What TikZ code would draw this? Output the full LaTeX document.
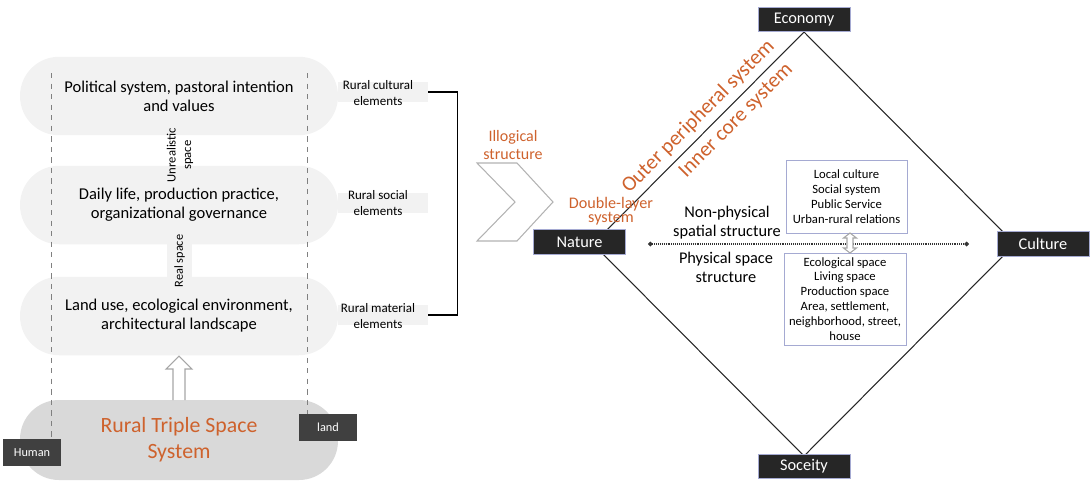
\documentclass[tikz,border=0pt]{standalone}
\usepackage{fontspec}
\setmainfont{Carlito}
\usetikzlibrary{arrows.meta}
\definecolor{rustorange}{RGB}{206,98,45}
\definecolor{bandgray}{RGB}{242,242,242}
\definecolor{pillgray}{RGB}{217,217,217}
\definecolor{darkbox}{RGB}{38,38,38}
\definecolor{midbox}{RGB}{64,64,64}
\definecolor{boxedge}{RGB}{165,170,210}
\tikzset{
  band/.style={fill=bandgray,rounded corners=0.78cm,minimum width=6.36cm,minimum height=1.57cm,align=center,font=\fontsize{9.4}{10.9}\selectfont},
  tab/.style={fill=bandgray,minimum width=1.8cm,minimum height=0.4cm,inner sep=0pt},
  tablabel/.style={align=center,font=\fontsize{7.4}{9}\selectfont},
  cornerbox/.style={fill=darkbox,draw=boxedge,line width=0.3pt,text=white,minimum width=1.84cm,minimum height=0.49cm,inner sep=0pt,font=\fontsize{9.3}{11}\selectfont},
  tagbox/.style={fill=midbox,text=white,minimum width=1.16cm,minimum height=0.54cm,inner sep=0pt,font=\fontsize{7}{8}\selectfont},
  accent/.style={text=rustorange,align=center},
  listbox/.style={draw=boxedge,line width=0.5pt,align=center,inner sep=0pt,font=\fontsize{7.2}{8.5}\selectfont},
  hollow/.style={draw=gray!70,fill=white,line width=0.6pt},
  guide/.style={dashed,gray,line width=0.5pt},
  edge/.style={line width=0.6pt,draw=black!85}
}
\begin{document}
\begin{tikzpicture}[x=0.02cm,y=-0.02cm]
\useasboundingbox (0,0) rectangle (1091,481);
% left part: three spaces
\path (383,92) node (cultab) [tab] {};
\path (383,203) node (soctab) [tab] {};
\path (383,315) node (mattab) [tab] {};
\path (378,93) node (cultural) [tablabel] {Rural cultural\\elements};
\path (378,203) node (social) [tablabel] {Rural social\\elements};
\path (378,316) node (material) [tablabel] {Rural material\\elements};
\path (179,96) node (political) [band] {Political system, pastoral intention\\and values};
\path (179,205) node (daily) [band] {Daily life, production practice,\\organizational governance};
\path (179,316) node (landuse) [band] {Land use, ecological environment,\\architectural landscape};
\path (180,155) node (unreal) [rotate=90,align=center,font=\fontsize{7.2}{8.8}\selectfont] {Unrealistic\\space};
\path (179.5,261) node (realspace) [fill=bandgray,rotate=90,minimum width=0.72cm,minimum height=0.5cm,inner sep=0pt,font=\fontsize{7}{8}\selectfont] {Real space};
\path (179,440) node (triple) [band,fill=pillgray,minimum height=1.6cm,accent,font=\fontsize{12.4}{15}\selectfont] {Rural Triple Space\\System};
\draw [hollow,fill=none] (173,400) -- (173,369) -- (166,369) -- (179,356) -- (192,369) -- (185,369) -- (185,400);
\draw [guide] (51,73) -- (51,440);
\draw [guide] (307,73) -- (307,415);
\path (32,452.5) node (human) [tagbox] {Human};
\path (328,427.5) node (land) [tagbox] {land};
\draw [line width=0.6pt] (cultab.east) -- ++(29,0) |- (mattab.east);
% chevron
\draw [gray!60,line width=0.6pt] (477,163) -- (517,163) -- (553,202) -- (517,241) -- (477,241) -- (515,202) -- cycle;
\path (513,145) node (illogical) [accent,font=\fontsize{9.1}{10.8}\selectfont] {Illogical\\structure};
% right part: diamond
\coordinate (ntop) at (804,32);
\coordinate (nright) at (1015,244);
\coordinate (nbottom) at (804,456);
\coordinate (nleft) at (593,244);
\draw [edge] (nleft) -- (ntop) -- (nright) -- (nbottom) -- cycle;
\path (nleft) -- (ntop)
  node [pos=0.55,sloped,above,accent,font=\fontsize{12}{14}\selectfont] {Outer peripheral system}
  node [pos=0.63,sloped,below,accent,font=\fontsize{12}{14}\selectfont] {Inner core system};
\path (611,211) node (double) [accent,font=\fontsize{9.2}{8}\selectfont] {Double-layer\\system};
\path (804,19.5) node (economy) [cornerbox] {Economy};
\path (579.5,242) node (nature) [cornerbox] {Nature};
\path (1043,244) node (culture) [cornerbox] {Culture};
\path (804,466.5) node (soceity) [cornerbox] {Soceity};
\coordinate (dotl) at (648,244);
\coordinate (dotr) at (969,244);
\draw [dash pattern=on 0.5pt off 0.6pt,line width=0.6pt,black!80,{Circle[length=2.6pt]}-{Circle[length=2.6pt]}] (dotl) -- (dotr);
\path (727,222.5) node (nonphys) [align=center,font=\fontsize{9.3}{10.8}\selectfont] {Non-physical\\spatial structure};
\path (726,267.5) node (phys) [align=center,font=\fontsize{9.3}{10.8}\selectfont] {Physical space\\structure};
\path (846.5,196.5) node (upperlist) [listbox,minimum width=2.42cm,minimum height=1.46cm] {Local culture\\Social system\\Public Service\\Urban-rural relations};
\path (845,299) node (lowerlist) [listbox,minimum width=2.44cm,minimum height=1.84cm] {Ecological space\\Living space\\Production space\\Area, settlement,\\neighborhood, street,\\house};
\draw [hollow] (850,233) -- (856.5,238) -- (853,238) -- (853,248) -- (856.5,248) -- (850,253) -- (843.5,248) -- (847,248) -- (847,238) -- (843.5,238) -- cycle;
\end{tikzpicture}
\end{document}
